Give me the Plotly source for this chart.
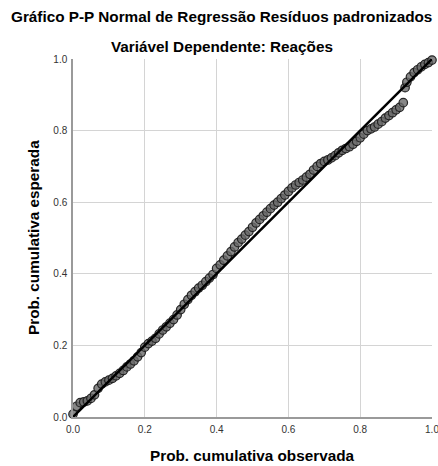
import plotly.graph_objects as go

# Observed cumulative probability (x) and expected cumulative probability (y)
obs_prob = [0.00, 0.01, 0.02, 0.03, 0.04, 0.05, 0.06, 0.07, 0.08, 0.09,
            0.10, 0.11, 0.12, 0.13, 0.14, 0.15, 0.16, 0.17, 0.18, 0.19,
            0.20, 0.21, 0.22, 0.23, 0.24, 0.25, 0.26, 0.27, 0.28, 0.29,
            0.30, 0.31, 0.32, 0.33, 0.34, 0.35, 0.36, 0.37, 0.38, 0.39,
            0.40, 0.41, 0.42, 0.43, 0.44, 0.45, 0.46, 0.47, 0.48, 0.49,
            0.50, 0.51, 0.52, 0.53, 0.54, 0.55, 0.56, 0.57, 0.58, 0.59,
            0.60, 0.61, 0.62, 0.63, 0.64, 0.65, 0.66, 0.67, 0.68, 0.69,
            0.70, 0.71, 0.72, 0.73, 0.74, 0.75, 0.76, 0.77, 0.78, 0.79,
            0.80, 0.81, 0.82, 0.83, 0.84, 0.85, 0.86, 0.87, 0.88, 0.89,
            0.90, 0.91, 0.92, 0.925, 0.93, 0.94, 0.95, 0.96, 0.97, 0.98,
            0.99, 1.00]
exp_prob = [0.008, 0.030, 0.040, 0.042, 0.045, 0.052, 0.062, 0.080, 0.092, 0.098,
            0.103, 0.108, 0.115, 0.122, 0.130, 0.140, 0.148, 0.157, 0.168, 0.180,
            0.195, 0.205, 0.212, 0.220, 0.232, 0.243, 0.252, 0.262, 0.272, 0.285,
            0.300, 0.315, 0.328, 0.340, 0.350, 0.360, 0.368, 0.378, 0.388, 0.398,
            0.415, 0.425, 0.438, 0.450, 0.462, 0.475, 0.487, 0.497, 0.508, 0.518,
            0.530, 0.542, 0.552, 0.562, 0.572, 0.582, 0.592, 0.600, 0.610, 0.620,
            0.630, 0.640, 0.648, 0.655, 0.662, 0.670, 0.678, 0.690, 0.700, 0.708,
            0.714, 0.718, 0.724, 0.730, 0.738, 0.745, 0.750, 0.755, 0.762, 0.770,
            0.780, 0.790, 0.800, 0.805, 0.810, 0.818, 0.825, 0.835, 0.842, 0.850,
            0.858, 0.865, 0.878, 0.920, 0.935, 0.950, 0.962, 0.970, 0.978, 0.985,
            0.990, 0.997]

ref_x = [0.0, 1.0]
ref_y = [0.0, 1.0]
tick_vals = [0.0, 0.2, 0.4, 0.6, 0.8, 1.0]
tick_text = ["0.0", "0.2", "0.4", "0.6", "0.8", "1.0"]

title1 = "Gráfico P-P Normal de Regressão Resíduos padronizados"
title2 = "Variável Dependente: Reações"
x_title = "Prob. cumulativa observada"
y_title = "Prob. cumulativa esperada"

fig = go.Figure()
fig.add_trace(go.Scatter(
    x=obs_prob, y=exp_prob, mode="markers",
    marker=dict(size=8.5, color="rgba(105,105,105,0.8)",
                line=dict(color="rgba(30,30,30,0.95)", width=1.2)),
    showlegend=False, hoverinfo="skip", cliponaxis=False))
fig.add_trace(go.Scatter(
    x=ref_x, y=ref_y, mode="lines",
    line=dict(color="black", width=2.5),
    showlegend=False, hoverinfo="skip"))

axis_common = dict(
    range=[0, 1], tickvals=tick_vals, ticktext=tick_text,
    showgrid=True, gridcolor="#d4d4d4", gridwidth=1,
    zeroline=False, showline=True, linecolor="#9a9a9a", linewidth=1.5,
    ticks="", tickfont=dict(family="Liberation Sans, Arial", size=10, color="#333333"),
    fixedrange=True, automargin=False, ticklabeloverflow="allow",
)

title_font = dict(family="Liberation Sans, Arial", size=15.3, color="black")

fig.update_layout(
    width=438, height=466,
    margin=dict(l=73, r=6, t=59, b=49),
    paper_bgcolor="white", plot_bgcolor="white",
    xaxis=dict(**axis_common, ticklabelstandoff=2),
    yaxis=dict(**axis_common, ticklabelstandoff=2),
    font=dict(family="Liberation Sans, Arial", color="black"),
    annotations=[
        dict(text="<b>" + title1 + "</b>", xref="paper", yref="paper",
             x=0.5, y=1, xshift=-31, yshift=43, xanchor="center", yanchor="middle",
             showarrow=False, font=title_font),
        dict(text="<b>" + title2 + "</b>", xref="paper", yref="paper",
             x=0.5, y=1, xshift=-31, yshift=13, xanchor="center", yanchor="middle",
             showarrow=False, font=title_font),
        dict(text="<b>" + x_title + "</b>", xref="paper", yref="paper",
             x=0.5, y=0, yshift=-38, xanchor="center", yanchor="middle",
             showarrow=False, font=title_font),
        dict(text="<b>" + y_title + "</b>", xref="paper", yref="paper",
             x=0, y=0.5, xshift=-40, xanchor="center", yanchor="middle",
             textangle=-90, showarrow=False, font=title_font),
    ],
)

fig.write_html("out.html", config={"displayModeBar": False},
               post_script="document.body.style.margin='0';document.body.style.overflow='hidden';")
